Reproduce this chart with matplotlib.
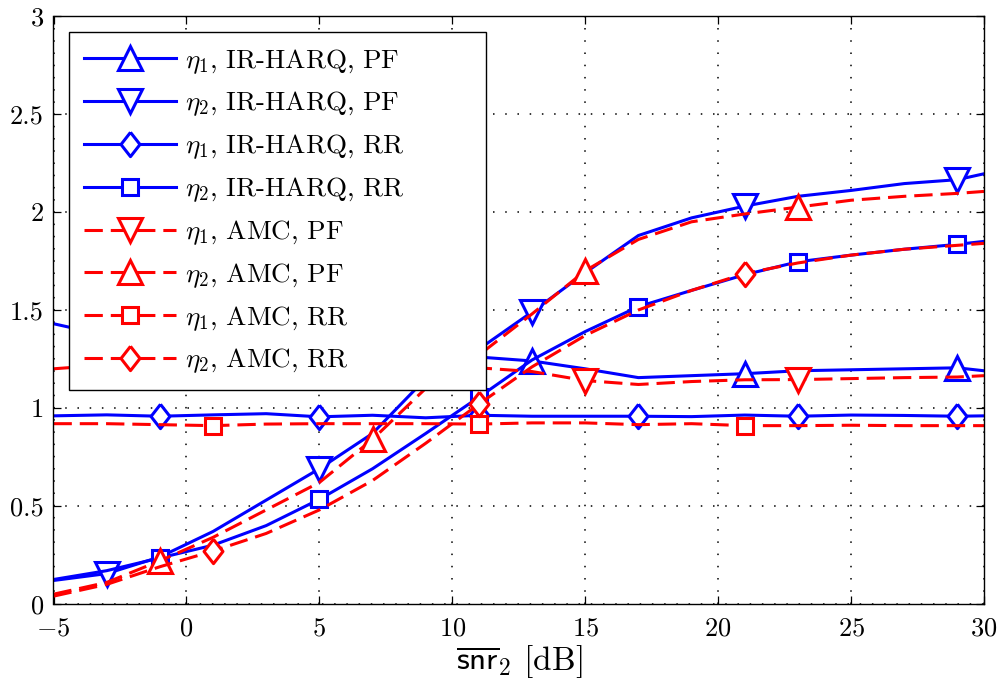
import matplotlib
matplotlib.use("Agg")
import matplotlib.pyplot as plt
from matplotlib.ticker import FuncFormatter

plt.rcParams['font.family'] = 'cmr10'
plt.rcParams['mathtext.fontset'] = 'cm'
plt.rcParams['axes.formatter.use_mathtext'] = True

snr = [-5, -3, -1, 1, 3, 5, 7, 9, 11, 13, 15, 17, 19, 21, 23, 25, 27, 29, 30]

eta1_ir_pf = [1.43, 1.37, 1.33, 1.30, 1.29, 1.28, 1.27, 1.265, 1.26, 1.24, 1.20, 1.155,
              1.165, 1.175, 1.19, 1.195, 1.20, 1.205, 1.19]
eta2_ir_pf = [0.12, 0.155, 0.24, 0.37, 0.53, 0.69, 0.87, 1.15, 1.30, 1.49, 1.69, 1.88,
              1.97, 2.03, 2.08, 2.11, 2.145, 2.165, 2.195]
eta1_ir_rr = [0.96, 0.965, 0.958, 0.965, 0.971, 0.955, 0.963, 0.95, 0.963, 0.958, 0.958, 0.958,
              0.956, 0.964, 0.958, 0.964, 0.962, 0.958, 0.96]
eta2_ir_rr = [0.125, 0.17, 0.235, 0.30, 0.40, 0.534, 0.69, 0.87, 1.055, 1.245, 1.39, 1.517,
              1.60, 1.68, 1.746, 1.78, 1.81, 1.835, 1.85]
eta1_amc_pf = [1.20, 1.22, 1.23, 1.235, 1.235, 1.23, 1.225, 1.215, 1.205, 1.186, 1.14, 1.12,
               1.135, 1.144, 1.145, 1.15, 1.155, 1.158, 1.165]
eta2_amc_pf = [0.05, 0.11, 0.22, 0.34, 0.48, 0.62, 0.84, 1.10, 1.27, 1.48, 1.70, 1.86,
               1.95, 1.99, 2.025, 2.06, 2.08, 2.095, 2.105]
eta1_amc_rr = [0.92, 0.92, 0.915, 0.91, 0.918, 0.92, 0.92, 0.92, 0.918, 0.924, 0.924, 0.915,
               0.92, 0.91, 0.91, 0.912, 0.91, 0.91, 0.91]
eta2_amc_rr = [0.04, 0.10, 0.19, 0.27, 0.36, 0.48, 0.63, 0.82, 1.02, 1.21, 1.37, 1.50,
               1.60, 1.686, 1.74, 1.78, 1.81, 1.83, 1.84]

diamond = [(0, 1), (0.78, 0), (0, -1), (-0.78, 0), (0, 1)]
blue = '#0000ff'
red = '#ff0000'
lw = 2.2
dash = (6, 2.6)

fig = plt.figure(figsize=(10.03, 6.87), dpi=100)
ax = fig.add_axes([53.5 / 1003, 83 / 687, 930.5 / 1003, 588 / 687])

ax.plot(snr, eta1_ir_pf, '-', color=blue, lw=lw, marker='^', ms=17, mew=2.2, mfc='white',
        markevery=[1, 5, 9, 13, 17], label=r'$\eta_1,\,\mathrm{IR}$-$\mathrm{HARQ},\,\mathrm{PF}$')
ax.plot(snr, eta2_ir_pf, '-', color=blue, lw=lw, marker='v', ms=17, mew=2.2, mfc='white',
        markevery=[1, 5, 9, 13, 17], label=r'$\eta_2,\,\mathrm{IR}$-$\mathrm{HARQ},\,\mathrm{PF}$')
ax.plot(snr, eta1_ir_rr, '-', color=blue, lw=lw, marker=diamond, ms=17.5, mew=2.2, mfc='white',
        markevery=[2, 5, 8, 11, 14, 17], label=r'$\eta_1,\,\mathrm{IR}$-$\mathrm{HARQ},\,\mathrm{RR}$')
ax.plot(snr, eta2_ir_rr, '-', color=blue, lw=lw, marker='s', ms=11, mew=2.2, mfc='white',
        markevery=[2, 5, 8, 11, 14, 17], label=r'$\eta_2,\,\mathrm{IR}$-$\mathrm{HARQ},\,\mathrm{RR}$')
ax.plot(snr, eta1_amc_pf, color=red, lw=lw, dashes=dash, marker='v', ms=17, mew=2.2, mfc='white',
        markevery=[2, 6, 10, 14], label=r'$\eta_1,\,\mathrm{AMC},\,\mathrm{PF}$')
ax.plot(snr, eta2_amc_pf, color=red, lw=lw, dashes=dash, marker='^', ms=17, mew=2.2, mfc='white',
        markevery=[2, 6, 10, 14], label=r'$\eta_2,\,\mathrm{AMC},\,\mathrm{PF}$')
ax.plot(snr, eta1_amc_rr, color=red, lw=lw, dashes=dash, marker='s', ms=11, mew=2.2, mfc='white',
        markevery=[3, 8, 13], label=r'$\eta_1,\,\mathrm{AMC},\,\mathrm{RR}$')
ax.plot(snr, eta2_amc_rr, color=red, lw=lw, dashes=dash, marker=diamond, ms=17.5, mew=2.2, mfc='white',
        markevery=[3, 8, 13], label=r'$\eta_2,\,\mathrm{AMC},\,\mathrm{RR}$')

ax.set_xlim(-5, 30)
ax.set_ylim(0, 3)
ax.set_xticks(range(-5, 31, 5))
ax.set_yticks([0, 0.5, 1, 1.5, 2, 2.5, 3])
ax.yaxis.set_major_formatter(FuncFormatter(lambda v, p: '%g' % v))
ax.tick_params(direction='in', length=6, width=0.9, top=True, right=True, labelsize=19)
ax.tick_params(axis='x', pad=9)
ax.tick_params(axis='y', pad=7)
ax.grid(True, color='black', linestyle=(0, (1, 7)), linewidth=1.1)
ax.set_axisbelow(True)
for s in ax.spines.values():
    s.set_linewidth(1.0)

ax.set_xlabel(r'$\overline{\mathsf{snr}}_2$ [dB]', fontsize=24, labelpad=2)

# legend box: fixed width like the MATLAB one
leg = ax.legend(loc='upper left', bbox_to_anchor=(0.0167, 0.37, 0.448, 0.6028), mode='expand',
                fontsize=19.5, numpoints=1, handlelength=3.4, handletextpad=0.35,
                labelspacing=0.52, borderaxespad=0, borderpad=0.55, fancybox=False, framealpha=1)
leg.get_frame().set_edgecolor('black')
leg.get_frame().set_linewidth(1.0)

fig.savefig('out.png', dpi=100)
